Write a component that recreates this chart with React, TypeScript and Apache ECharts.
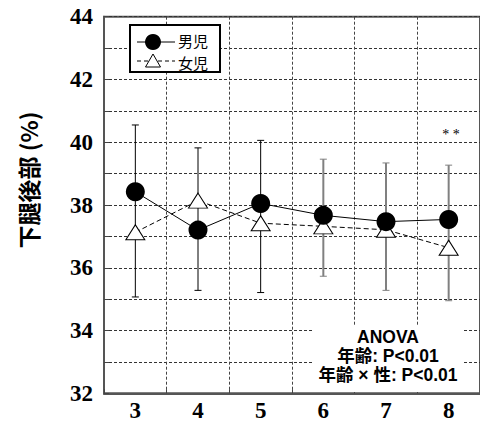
import React, { useEffect, useRef } from "react";
import * as echarts from "echarts";

const categories = ["3", "4", "5", "6", "7", "8"];
const boys = [38.42, 37.2, 38.05, 37.67, 37.47, 37.54];
const girls = [37.13, 38.14, 37.42, 37.32, 37.21, 36.64];
const boysUpper = [40.55, 39.82, 40.06, 39.46, 39.34, 39.27];
const girlsLower = [35.07, 35.28, 35.21, 35.73, 35.28, 34.95];
const yTicks = [32, 34, 36, 38, 40, 42, 44];
const anovaLines = ["ANOVA", "年齢: P<0.01", "年齢 × 性: P<0.01"];

export default function App() {
  const ref = useRef<HTMLDivElement>(null);
  useEffect(() => {
    if (!ref.current) return;
    const chart = echarts.init(ref.current, null, { renderer: "svg" });
    const errData = categories.map((_, i) => [i, girlsLower[i], boysUpper[i]]);
    const serif = "Liberation Serif";
    const sans = "Liberation Sans, Noto Sans CJK JP, sans-serif";
    const labelStyle = { fontFamily: serif, fontWeight: "bold", fontSize: 23, color: "#000" };
    const option: any = {
      animation: false,
      backgroundColor: "#fff",
      textStyle: { color: "#000" },
      grid: {
        left: 104,
        top: 16.7,
        width: 377.6,
        height: 376.6,
        show: true,
        borderColor: "#555",
        borderWidth: 2,
        backgroundColor: "transparent",
      },
      xAxis: {
        type: "category",
        data: categories,
        boundaryGap: true,
        axisLine: { show: true, lineStyle: { color: "#555", width: 2 } },
        axisTick: { show: true, inside: true, length: 4, lineStyle: { color: "#444" } },
        axisLabel: { ...labelStyle, margin: 6 },
        splitLine: { show: true, interval: 0, lineStyle: { color: "#444", type: [3, 2], width: 1 } },
      },
      yAxis: {
        type: "value",
        min: 32,
        max: 44,
        interval: 2,
        minorTick: { show: true, splitNumber: 2, length: 5, lineStyle: { color: "#444" } },
        minorSplitLine: { show: true, lineStyle: { color: "#333", type: [3, 2], width: 1 } },
        axisLine: { show: true, lineStyle: { color: "#555", width: 2 } },
        axisTick: { show: true, inside: true, length: 5, lineStyle: { color: "#444" } },
        axisLabel: {
          show: true,
          fontFamily: serif,
          fontWeight: "bold",
          fontSize: 23,
          color: "#000000",
          margin: 11,
        },
        splitLine: { show: true, lineStyle: { color: "#333", type: [3, 2], width: 1 } },
      },
      series: [
        {
          type: "custom",
          name: "err",
          z: 1,
          data: errData,
          renderItem: (params: any, api: any) => {
            const i = api.value(0);
            const lo = api.coord([i, api.value(1)]);
            const hi = api.coord([i, api.value(2)]);
            const gray = i >= 3;
            const col = gray ? "#808080" : "#000";
            const cw = 3.5;
            return {
              type: "group",
              children: [
                { type: "line", shape: { x1: lo[0], y1: lo[1], x2: hi[0], y2: hi[1] }, style: { stroke: col, lineWidth: gray ? 2 : 1 } },
                { type: "line", shape: { x1: lo[0] - cw, y1: lo[1], x2: lo[0] + cw, y2: lo[1] }, style: { stroke: col, lineWidth: 1 } },
                { type: "line", shape: { x1: hi[0] - cw, y1: hi[1], x2: hi[0] + cw, y2: hi[1] }, style: { stroke: col, lineWidth: 1 } },
              ],
            };
          },
        },
        {
          type: "line",
          name: "女児",
          data: girls,
          z: 3,
          symbol: "triangle",
          symbolSize: [19, 15],
          itemStyle: { color: "#fff", borderColor: "#000", borderWidth: 1 },
          lineStyle: { color: "#000", width: 1, type: [5, 3] },
        },
        {
          type: "line",
          name: "男児",
          data: boys,
          z: 4,
          symbol: "circle",
          symbolSize: 19,
          itemStyle: { color: "#000", borderColor: "#000", borderWidth: 0 },
          lineStyle: { color: "#000", width: 1 },
        },
      ],
      graphic: [
        {
          type: "text",
          x: 28,
          y: 180,
          rotation: Math.PI / 2,
          style: {
            text: "下腿後部 (%)",
            font: "bold 23px Noto Sans CJK JP",
            fill: "#000",
            align: "center",
            verticalAlign: "middle",
          },
        },
        {
          type: "text",
          x: 451,
          y: 134,
          z: 10,
          style: { text: "* *", font: "14px Liberation Serif", fill: "#000", align: "center", verticalAlign: "middle" },
        },
        {
          type: "rect",
          z: 10,
          shape: { x: 314, y: 325, width: 148, height: 67 },
          style: { fill: "#fff", stroke: null },
        },
        ...anovaLines.map((t, k) => ({
          type: "text",
          z: 11,
          x: 388,
          y: 337 + k * 18.8,
          style: { text: t, font: "bold 17.5px " + sans, fill: "#000", align: "center", verticalAlign: "middle", lineHeight: 18 },
        })),
        {
          type: "rect",
          z: 10,
          shape: { x: 130, y: 25, width: 90, height: 47 },
          style: { fill: "#fff", stroke: "#000", lineWidth: 2 },
        },
        {
          type: "line",
          z: 11,
          shape: { x1: 137, y1: 42, x2: 175, y2: 42 },
          style: { stroke: "#000", lineWidth: 1 },
        },
        { type: "circle", z: 12, shape: { cx: 153, cy: 42, r: 8 }, style: { fill: "#000" } },
        {
          type: "text",
          z: 12,
          x: 178,
          y: 40.5,
          style: { text: "男児", font: "15px Noto Sans CJK JP", fill: "#000", verticalAlign: "middle", lineHeight: 15 },
        },
        {
          type: "line",
          z: 11,
          shape: { x1: 137, y1: 61, x2: 175, y2: 61 },
          style: { stroke: "#000", lineWidth: 1, lineDash: [4, 3] },
        },
        {
          type: "polygon",
          z: 12,
          shape: { points: [[153, 54], [160.5, 67], [145.5, 67]] },
          style: { fill: "#fff", stroke: "#000", lineWidth: 1 },
        },
        {
          type: "text",
          z: 12,
          x: 178,
          y: 62.5,
          style: { text: "女児", font: "15px Noto Sans CJK JP", fill: "#000", verticalAlign: "middle", lineHeight: 15 },
        },
      ],
    };
    chart.setOption(option);
    return () => chart.dispose();
  }, []);
  return <div ref={ref} style={{ position: "fixed", left: 0, top: 0, width: 480, height: 428 }} />;
}
